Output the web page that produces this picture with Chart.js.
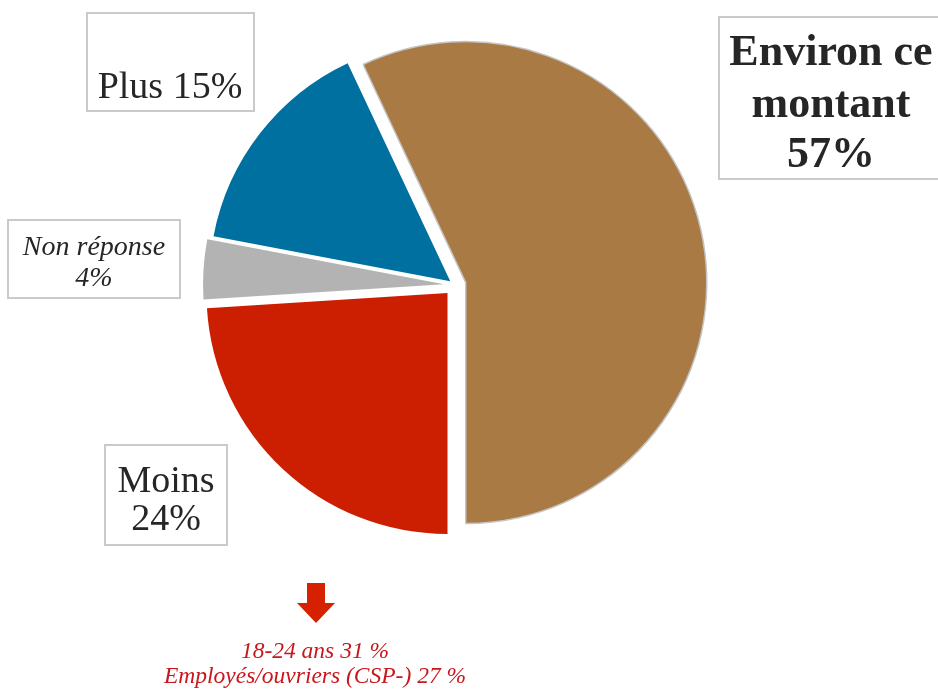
<!DOCTYPE html>
<html lang="fr">
<head>
<meta charset="utf-8">
<title>Camembert</title>
<script src="https://cdn.jsdelivr.net/npm/chart.js@4/dist/chart.umd.min.js"></script>
<style>
  html, body { margin: 0; padding: 0; background: #fff; }
  #wrap { width: 938px; height: 691px; position: relative; }
</style>
</head>
<body>
<div id="wrap"><canvas id="pieChart"></canvas></div>
<script>
// Données (sens horaire, en partant de la part brune)
const categories = ['Environ ce\nmontant', 'Moins', 'Non réponse', 'Plus'];
const values = [57, 24, 4, 15];
const colors = ['#A97A43', '#CC1E00', '#B3B3B3', '#0070A1'];
const noteLines = ['18-24 ans 31 %', 'Employés/ouvriers (CSP-) 27 %'];

// Décalage (éclatement) de chaque part, en pixels
const explode = [11, 11, 11, 6];

// Cadres des étiquettes
const boxes = [
  { x: 719, y: 17, w: 260, h: 162, cx: 831, base: [65, 117, 167], font: 'bold 44px "Liberation Serif"', sameLine: false },
  { x: 105, y: 445, w: 122, h: 100, cx: 166, base: [492, 530], font: '38px "Liberation Serif"', sameLine: false },
  { x: 8, y: 220, w: 172, h: 78, cx: 94, base: [255, 286], font: 'italic 28px "Liberation Serif"', sameLine: false },
  { x: 87, y: 13, w: 167, h: 98, cx: 170, base: [98], font: '38px "Liberation Serif"', sameLine: true }
];

// Éclate les parts à partir des angles calculés par Chart.js
const explodePlugin = {
  id: 'explode',
  beforeDatasetsDraw(chart) {
    const a = chart.chartArea;
    const cx = (a.left + a.right) / 2;
    const cy = (a.top + a.bottom) / 2;
    chart.getDatasetMeta(0).data.forEach((arc, i) => {
      const mid = (arc.startAngle + arc.endAngle) / 2;
      arc.x = cx + Math.cos(mid) * explode[i];
      arc.y = cy + Math.sin(mid) * explode[i];
    });
  }
};

// Étiquettes encadrées, flèche et note
const labelsPlugin = {
  id: 'boxLabels',
  afterDraw(chart) {
    const ctx = chart.ctx;
    ctx.save();
    boxes.forEach((b, i) => {
      ctx.strokeStyle = '#CACACA';
      ctx.lineWidth = 2;
      ctx.strokeRect(b.x, b.y, b.w, b.h);
      const pct = values[i] + '%';
      let lines = categories[i].split('\n');
      if (b.sameLine) lines[lines.length - 1] += ' ' + pct;
      else lines.push(pct);
      ctx.font = b.font;
      ctx.fillStyle = '#262626';
      ctx.textAlign = 'center';
      ctx.textBaseline = 'alphabetic';
      lines.forEach((t, k) => ctx.fillText(t, b.cx, b.base[k]));
    });

    // flèche rouge
    ctx.fillStyle = '#D62100';
    ctx.fillRect(307, 583, 18, 21);
    ctx.beginPath();
    ctx.moveTo(297, 603);
    ctx.lineTo(335, 603);
    ctx.lineTo(316, 623);
    ctx.closePath();
    ctx.fill();

    // note sous la flèche
    ctx.font = 'italic 23.5px "Liberation Serif"';
    ctx.fillStyle = '#C8171C';
    ctx.textAlign = 'center';
    ctx.fillText(noteLines[0], 315, 658);
    ctx.fillText(noteLines[1], 315, 683);
    ctx.restore();
  }
};

const ctx = document.getElementById('pieChart').getContext('2d');
const chart = new Chart(ctx, {
  type: 'pie',
  data: {
    labels: categories,
    datasets: [{
      data: values,
      backgroundColor: colors,
      borderColor: ['#C4C4C4', 'rgba(0,0,0,0)', 'rgba(0,0,0,0)', 'rgba(0,0,0,0)'],
      borderWidth: [1.5, 0, 0, 0]
    }]
  },
  options: {
    responsive: true,
    maintainAspectRatio: false,
    animation: false,
    rotation: -25.2,
    radius: 241,
    layout: { padding: { left: 0, right: 28, top: 0, bottom: 121 } },
    plugins: {
      legend: { display: false },
      tooltip: { enabled: false }
    }
  },
  plugins: [explodePlugin, labelsPlugin]
});
</script>
</body>
</html>
